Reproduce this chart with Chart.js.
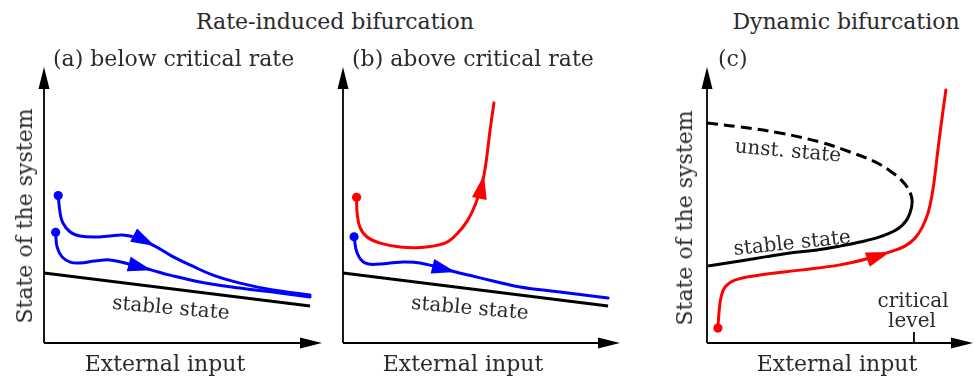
<!DOCTYPE html>
<html><head><meta charset="utf-8">
<script src="https://cdn.jsdelivr.net/npm/chart.js@4.4.1/dist/chart.umd.min.js"></script>
<style>
html,body{margin:0;padding:0;background:#fff;}
#wrap{position:relative;width:974px;height:377px;overflow:hidden;background:#fff;}
canvas{position:absolute;}
.t{position:absolute;font-family:"DejaVu Serif",serif;color:#2b2b2b;white-space:nowrap;line-height:1;transform:translate(-50%,-50%);font-size:22px;}
.l{transform:translate(0,-50%);}
.s{font-size:20px;}
</style></head><body><div id="wrap">
<canvas id="ca"></canvas><canvas id="cb"></canvas><canvas id="cc"></canvas>
<div class="t" style="left:335px;top:22px">Rate-induced bifurcation</div>
<div class="t" style="left:846px;top:22px">Dynamic bifurcation</div>
<div class="t l" style="left:53px;top:59px">(a) below critical rate</div>
<div class="t l" style="left:352px;top:59px">(b) above critical rate</div>
<div class="t l" style="left:718px;top:59px">(c)</div>
<div class="t" style="left:165px;top:364px">External input</div>
<div class="t" style="left:463px;top:364px">External input</div>
<div class="t" style="left:837px;top:364px">External input</div>
<div class="t" style="left:25px;top:216px;transform:translate(-50%,-50%) rotate(-90deg)">State of the system</div>
<div class="t" style="left:685px;top:218px;transform:translate(-50%,-50%) rotate(-90deg)">State of the system</div>
<div class="t s" style="left:171px;top:307px;transform:translate(-50%,-50%) rotate(5deg)">stable state</div>
<div class="t s" style="left:470px;top:307px;transform:translate(-50%,-50%) rotate(5deg)">stable state</div>
<div class="t s" style="left:788px;top:150px;transform:translate(-50%,-50%) rotate(5deg)">unst. state</div>
<div class="t s" style="left:792px;top:242px;transform:translate(-50%,-50%) rotate(-6deg)">stable state</div>
<div class="t s" style="left:913px;top:300px">critical</div>
<div class="t s" style="left:912px;top:320px">level</div>
</div>
<script>
// ---- data (axis units 0..10 for each panel) ----
const axisRange = [0, 10];

const aStable = [[0,2.54],[9.57,1.34]];
const aUpper  = [[0.51,5.34],[0.58,4.71],[0.68,4.35],[0.94,4.02],[1.29,3.88],[1.83,3.84],[2.37,3.88],[2.84,3.91],[3.35,3.80],[3.99,3.51],[4.60,3.15],[5.25,2.83],[6.08,2.46],[7.05,2.17],[8.24,1.92],[9.57,1.74]];
const aLower  = [[0.42,4.01],[0.47,3.48],[0.65,3.12],[0.94,2.93],[1.29,2.90],[1.83,2.97],[2.37,3.01],[2.91,2.90],[3.88,2.64],[4.53,2.46],[5.61,2.21],[7.05,1.99],[8.49,1.81],[9.57,1.67]];

const bStable = [[0,2.54],[9.57,1.34]];
const bRed    = [[0.49,5.28],[0.51,4.71],[0.61,4.20],[0.87,3.84],[1.34,3.62],[2.06,3.48],[2.78,3.46],[3.68,3.62],[4.15,3.99],[4.51,4.46],[4.77,5.00],[4.95,5.54],[5.09,6.09],[5.20,6.81],[5.31,7.72],[5.45,8.70]];
const bBlue   = [[0.40,3.85],[0.51,3.26],[0.79,2.90],[1.34,2.86],[2.06,2.93],[2.78,2.90],[4.07,2.57],[4.95,2.36],[6.39,2.03],[7.83,1.85],[9.57,1.63]];

// fold curve: unstable branch (dashed) up to the turning point, then stable branch
const cFold = [[0,7.97],[1.24,7.83],[2.74,7.61],[4.25,7.28],[5.38,6.92],[6.32,6.56],[6.99,6.16],[7.44,5.76],[7.67,5.36],[7.71,5.07],[7.63,4.71],[7.48,4.42],[7.22,4.17],[6.80,3.95],[6.32,3.79],[5.75,3.66],[5.00,3.51],[4.14,3.37],[3.12,3.26],[2.18,3.12],[1.24,2.97],[0.04,2.79]];
const cFoldTurn = 9;
const cRed   = [[0.41,0.54],[0.45,1.09],[0.53,1.67],[0.68,2.03],[1.05,2.28],[1.99,2.46],[3.50,2.64],[5.00,2.83],[6.13,3.08],[6.88,3.30],[7.44,3.51],[7.82,3.80],[8.08,4.17],[8.31,4.71],[8.46,5.36],[8.57,6.09],[8.68,6.99],[8.80,7.90],[8.98,9.17]];
const cCriticalX = 7.78;
const cTickLen = 0.4;

// arrow positions = index of tip point in each series
const aUpperArrow = 9, aLowerArrow = 8, bRedArrow = 12, bBlueArrow = 6, cRedArrow = 9;

const BLUE = '#0000ff', RED = '#ff0000', BLACK = '#000000';
const P = 16;

function pts(a){ return a.map(p => ({x:p[0], y:p[1]})); }

const decoPlugin = {
  id: 'deco',
  beforeDatasetsDraw(chart){
    const ctx = chart.ctx, xs = chart.scales.x, ys = chart.scales.y;
    const ox = xs.getPixelForValue(axisRange[0]), oy = ys.getPixelForValue(axisRange[0]);
    const tx = xs.getPixelForValue(axisRange[1]), ty = ys.getPixelForValue(axisRange[1]);
    ctx.save();
    ctx.strokeStyle = BLACK; ctx.fillStyle = BLACK; ctx.lineWidth = 1.8;
    ctx.beginPath(); ctx.moveTo(ox, oy); ctx.lineTo(tx - 12, oy); ctx.stroke();
    ctx.beginPath(); ctx.moveTo(ox, oy); ctx.lineTo(ox, ty + 12); ctx.stroke();
    ctx.beginPath(); ctx.moveTo(tx, oy); ctx.lineTo(tx - 22, oy - 5.5); ctx.lineTo(tx - 22, oy + 5.5); ctx.closePath(); ctx.fill();
    ctx.beginPath(); ctx.moveTo(ox, ty); ctx.lineTo(ox - 5.5, ty + 22); ctx.lineTo(ox + 5.5, ty + 22); ctx.closePath(); ctx.fill();
    ctx.restore();
  },
  afterDatasetsDraw(chart){
    const ctx = chart.ctx;
    chart.data.datasets.forEach((ds, i) => {
      if (ds.arrowAt == null) return;
      const el = chart.getDatasetMeta(i).data;
      const k = ds.arrowAt;
      const p0 = el[k-1], p1 = el[k], p2 = el[k+1];
      let dx = p2.x - p0.x, dy = p2.y - p0.y;
      const d = Math.hypot(dx, dy); dx /= d; dy /= d;
      const L = 24, W = 7.5;
      const bx = p1.x - L*dx, by = p1.y - L*dy;
      ctx.save(); ctx.fillStyle = ds.borderColor;
      ctx.beginPath(); ctx.moveTo(p1.x, p1.y);
      ctx.lineTo(bx - W*dy, by + W*dx); ctx.lineTo(bx + W*dy, by - W*dx);
      ctx.closePath(); ctx.fill(); ctx.restore();
    });
  }
};

function curve(data, color, opts){
  return Object.assign({
    data: pts(data), borderColor: color, backgroundColor: color, borderWidth: 3,
    cubicInterpolationMode: 'default', tension: 0.4, fill: false, pointBorderWidth: 0,
    pointRadius: c => c.dataIndex === 0 ? 4.6 : 0, pointHoverRadius: 0,
    borderCapStyle: 'round', borderJoinStyle: 'round'
  }, opts || {});
}

function makeChart(id, ox, oy, xTip, yTip, datasets){
  const w = xTip - ox, h = oy - yTip;
  const cv = document.getElementById(id);
  cv.style.left = (ox - P) + 'px'; cv.style.top = (yTip - P) + 'px';
  cv.width = w + 2*P; cv.height = h + 2*P;
  cv.style.width = (w + 2*P) + 'px'; cv.style.height = (h + 2*P) + 'px';
  return new Chart(cv, {
    type: 'line',
    data: { datasets },
    options: {
      responsive: false, animation: false, devicePixelRatio: 1,
      layout: { padding: P },
      plugins: { legend: {display:false}, title: {display:false}, tooltip: {enabled:false} },
      events: [],
      scales: {
        x: { type: 'linear', min: axisRange[0], max: axisRange[1], display: false },
        y: { type: 'linear', min: axisRange[0], max: axisRange[1], display: false }
      }
    },
    plugins: [decoPlugin]
  });
}

makeChart('ca', 44, 343, 322, 67, [
  curve(aStable, BLACK, {tension: 0, pointRadius: 0, borderCapStyle: 'butt'}),
  curve(aUpper, BLUE, {arrowAt: aUpperArrow}),
  curve(aLower, BLUE, {arrowAt: aLowerArrow})
]);
makeChart('cb', 343, 343, 620, 67, [
  curve(bStable, BLACK, {tension: 0, pointRadius: 0, borderCapStyle: 'butt'}),
  curve(bRed, RED, {arrowAt: bRedArrow}),
  curve(bBlue, BLUE, {arrowAt: bBlueArrow})
]);
makeChart('cc', 707, 343, 973, 67, [
  curve(cFold, BLACK, {pointRadius: 0, borderCapStyle: 'butt',
    segment: { borderDash: c => c.p0DataIndex < cFoldTurn ? [11, 6] : [] }}),
  curve([[cCriticalX, 0], [cCriticalX, cTickLen]], BLACK, {tension: 0, pointRadius: 0, borderWidth: 1.8, borderCapStyle: 'butt'}),
  curve(cRed, RED, {arrowAt: cRedArrow})
]);
</script>
</body></html>
